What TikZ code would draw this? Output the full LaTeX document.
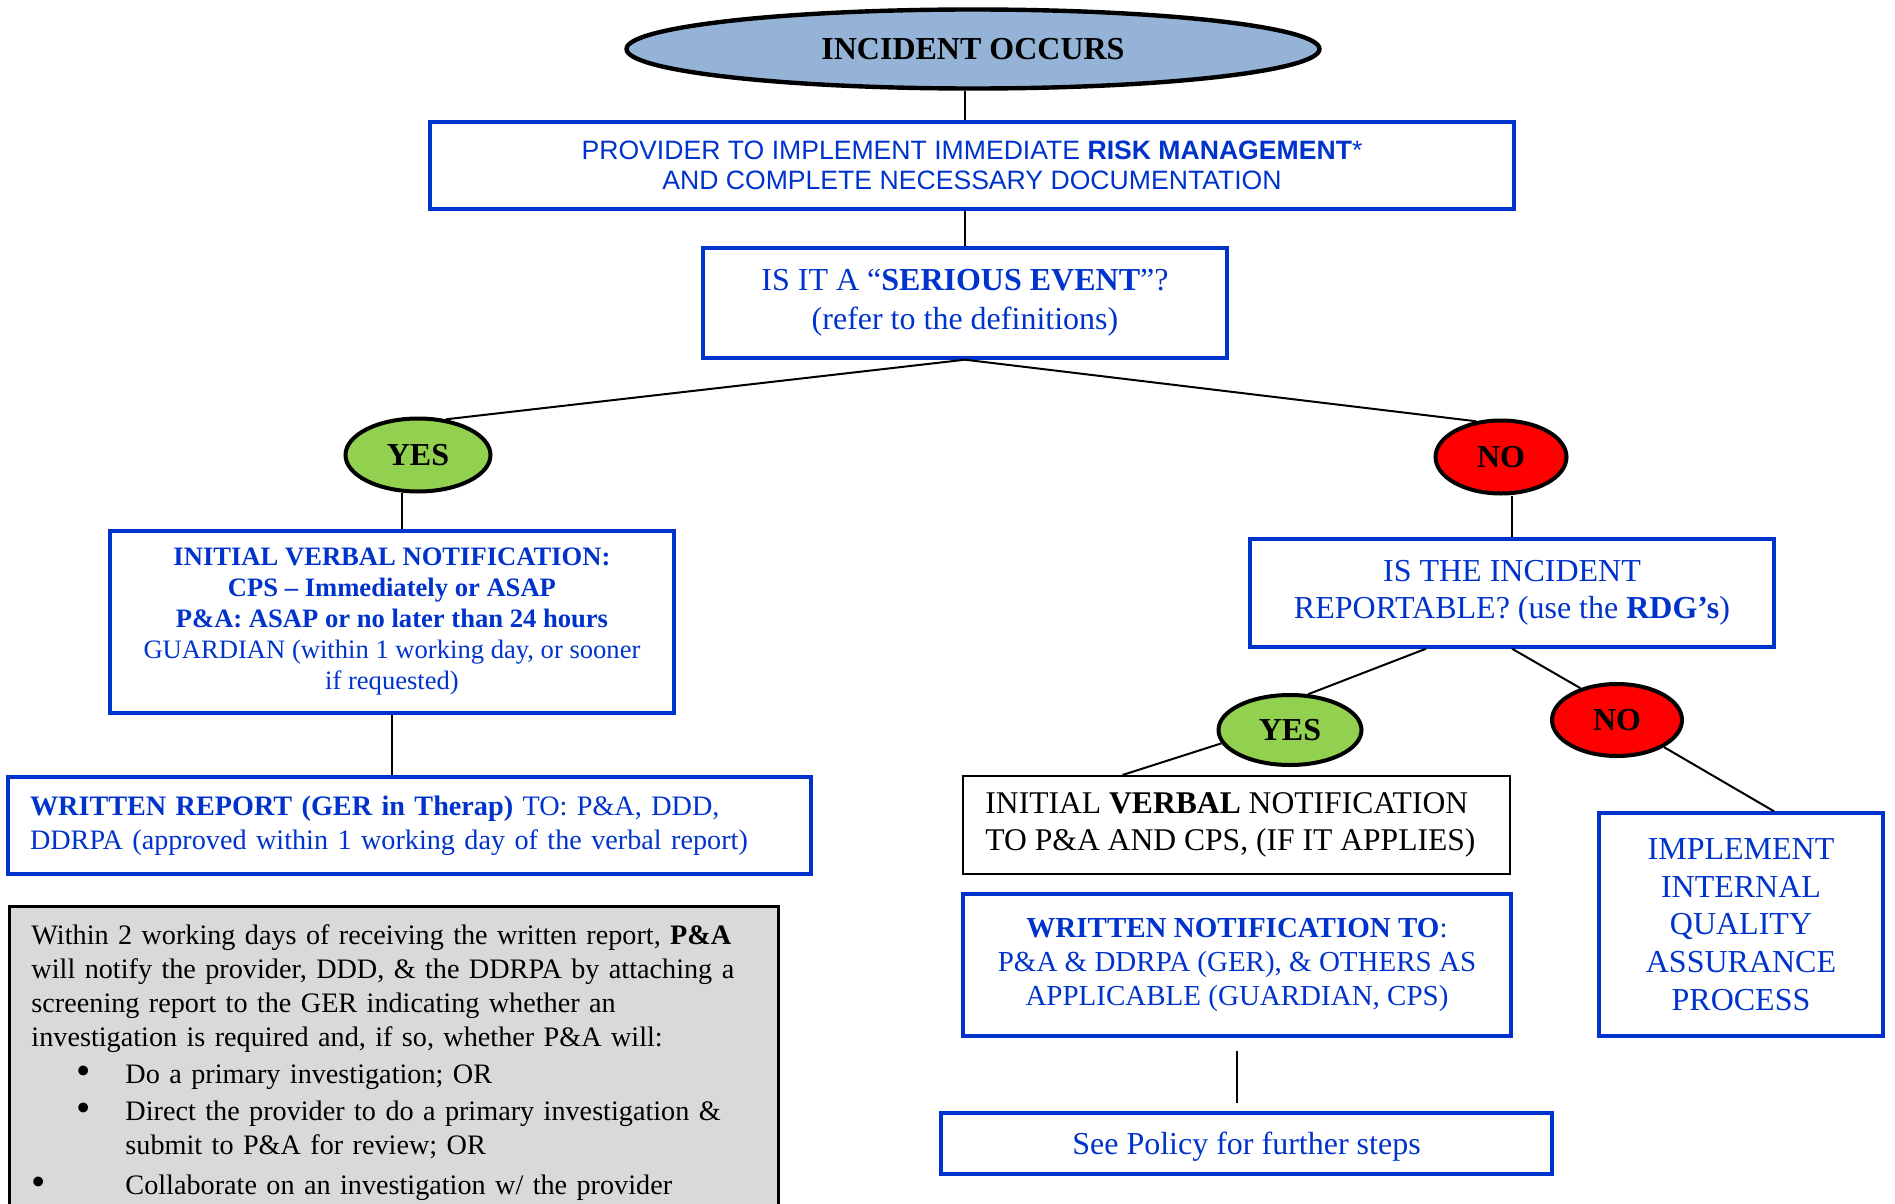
\documentclass[tikz,border=0pt]{standalone}
\usepackage{xcolor}
\usepackage{fontspec}
\setmainfont{Liberation Serif}
\newfontfamily\arialfont{Liberation Sans}
\usepackage{tikz}
\usetikzlibrary{shapes.geometric}

\definecolor{boxblue}{RGB}{0,51,204}
\definecolor{occursblue}{RGB}{149,179,215}
\definecolor{yesgreen}{RGB}{146,208,80}
\definecolor{screengray}{RGB}{217,217,217}

\newcommand\bigdot{\raisebox{-0.5pt}{\scalebox{1.45}{\textbullet}}}

\begin{document}
\begin{tikzpicture}[x=0.5pt,y=-0.5pt,
  bluebox/.style={draw=boxblue,line width=1.7pt,text=boxblue,align=center,inner sep=0pt},
  answer/.style={ellipse,draw=black,line width=2pt,inner sep=0pt,
    font=\fontsize{16}{19}\selectfont\bfseries},
  link/.style={black,line width=1pt}]
  \def \W {1895}
  \def \H {1204}
  \useasboundingbox (0,0) rectangle (\W,\H);
  \clip (0,0) rectangle (\W,\H);

  \node (occurs) [ellipse,draw=black,line width=2.2pt,fill=occursblue,
    minimum width=346.5pt,minimum height=39.5pt,inner sep=0pt,
    font=\fontsize{16}{19}\selectfont\bfseries] at (973,49) {INCIDENT OCCURS};
  \node (provider) [bluebox,minimum width=542pt,minimum height=43.5pt,
    font=\arialfont\fontsize{13.3}{15}\selectfont] at (972,165.5)
    {PROVIDER TO IMPLEMENT IMMEDIATE \textbf{RISK MANAGEMENT}*\\
     AND COMPLETE NECESSARY DOCUMENTATION};
  \node (serious) [bluebox,minimum width=262pt,minimum height=55pt,
    font=\fontsize{16}{19.35}\selectfont] at (965,303)
    {IS IT A ``\textbf{SERIOUS EVENT}''?\\(refer to the definitions)};

  \node (yes1) [answer,fill=yesgreen,minimum width=72.5pt,minimum height=36.5pt]
    at (418,455) {YES};
  \node (no1) [answer,fill=red,minimum width=65.5pt,minimum height=36.5pt]
    at (1501,457) {NO};

  \node (verbal) [bluebox,minimum width=282pt,minimum height=91pt,
    font=\fontsize{13.3}{15.5}\selectfont] at (392,622)
    {\textbf{INITIAL VERBAL NOTIFICATION:}\\
     \textbf{CPS -- Immediately or ASAP}\\
     \textbf{P\&A: ASAP or no later than 24 hours}\\
     GUARDIAN (within 1 working day, or sooner\\
     if requested)};
  \node (written) [bluebox,align=left,text width=379.5pt,inner xsep=11pt,
    minimum height=48.5pt,font=\fontsize{14.1}{17}\selectfont] at (409.5,825.5)
    {\textbf{WRITTEN REPORT (GER in Therap)} TO: P\&A, DDD,\\
     DDRPA (approved within 1 working day of the verbal report)};
  \node (screen) [draw=black,line width=1.5pt,fill=screengray,align=left,
    text width=362.5pt,inner xsep=11pt,inner ysep=9pt,anchor=north west,
    font=\fontsize{14.1}{17}\selectfont] at (8,905)
    {Within 2 working days of receiving the written report, \textbf{P\&A}\\
     will notify the provider, DDD, \& the DDRPA by attaching a\\
     screening report to the GER indicating whether an\\
     investigation is required and, if so, whether P\&A will:\\[1.5pt]
     \hspace*{22.6pt}\makebox[24.4pt][l]{\bigdot}Do a primary investigation; OR\\[1.5pt]
     \hspace*{22.6pt}\makebox[24.4pt][l]{\bigdot}Direct the provider to do a primary investigation \&\\
     \hspace*{47pt}submit to P\&A for review; OR\\[3pt]
     \hspace*{0pt}\makebox[47pt][l]{\bigdot}Collaborate on an investigation w/ the provider};

  \node (report) [bluebox,minimum width=262pt,minimum height=54pt,
    font=\fontsize{16}{18.75}\selectfont] at (1512,593)
    {IS THE INCIDENT\\REPORTABLE? (use the \textbf{RDG’s})};
  \node (yes2) [answer,fill=yesgreen,minimum width=71.5pt,minimum height=35pt]
    at (1290,730) {YES};
  \node (no2) [answer,fill=red,minimum width=65pt,minimum height=36pt]
    at (1617,720) {NO};
  \node (call) [draw=black,line width=1pt,align=left,
    inner sep=0pt,minimum width=273.5pt,minimum height=49pt,
    font=\fontsize{15.8}{18.75}\selectfont] at (1236.5,825)
    {INITIAL \textbf{VERBAL} NOTIFICATION\\
     TO P\&A AND CPS, (IF IT APPLIES)\hspace*{6pt}};
  \node (notify) [bluebox,minimum width=274pt,minimum height=71pt,
    font=\fontsize{14.5}{17}\selectfont] at (1237,965)
    {\textbf{WRITTEN NOTIFICATION TO}:\\
     P\&A \& DDRPA (GER), \& OTHERS AS\\
     APPLICABLE (GUARDIAN, CPS)};
  \node (qa) [bluebox,minimum width=142pt,minimum height=111.5pt,
    font=\fontsize{16}{18.9}\selectfont] at (1741,924.5)
    {IMPLEMENT\\INTERNAL\\QUALITY\\ASSURANCE\\PROCESS};
  \node (policy) [bluebox,minimum width=305.5pt,minimum height=30.5pt,
    font=\fontsize{16}{19}\selectfont] at (1246.5,1143.5)
    {\raisebox{-5.3pt}[0pt][0pt]{See Policy for further steps}};

  \draw [link] (occurs.south -| serious.north) -- (provider.north -| serious.north);
  \draw [link] (provider.south -| serious.north) -- (serious.north);
  \draw [link] (serious.south) -- (yes1.52);
  \draw [link] (serious.south) -- (no1.125);
  \draw [link] (yes1.247) -- (yes1.247 |- verbal.north);
  \draw [link] (verbal.south) -- (verbal.south |- written.north);
  \draw [link] (no1.south -| report.north) -- (report.north);
  \draw [link] ([xshift=-43pt]report.south) -- (yes2.63);
  \draw [link] (report.south) -- (no2.139);
  \draw [link] (yes2.191) -- ([xshift=-57pt]call.north);
  \draw [link] (no2.-30) -- ([xshift=16.5pt]qa.north);
  \draw [link] ([yshift=-6.5pt]notify.south) -- ([yshift=4pt]notify.south |- policy.north);

\end{tikzpicture}
\end{document}
